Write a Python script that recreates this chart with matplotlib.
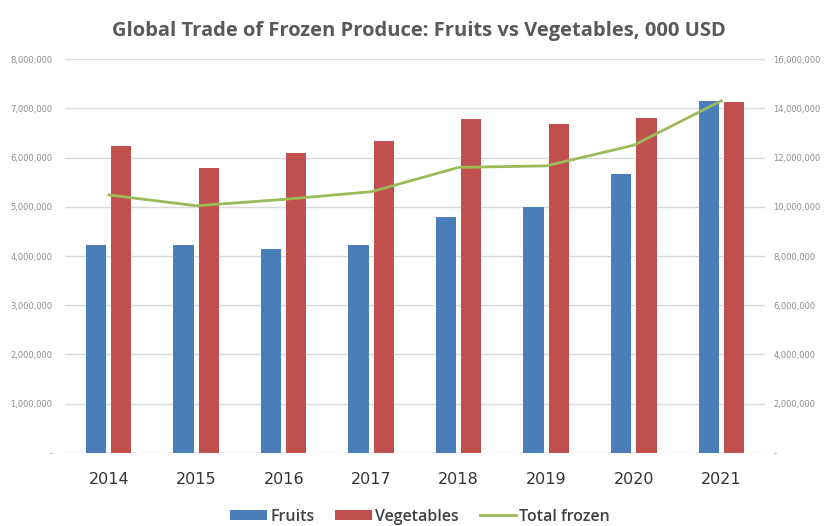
import matplotlib
matplotlib.use('Agg')
import matplotlib.pyplot as plt
import numpy as np

# Values in USD (000)
years = ['2014', '2015', '2016', '2017', '2018', '2019', '2020', '2021']
fruits = [4220000, 4220000, 4150000, 4220000, 4790000, 5000000, 5660000, 7150000]
vegetables = [6230000, 5790000, 6100000, 6330000, 6780000, 6690000, 6800000, 7130000]
total_frozen = [10480000, 10040000, 10300000, 10610000, 11600000, 11660000, 12500000, 14300000]


def fmt(v, pos=None):
    return '-' if v == 0 else '{:,.0f}'.format(v)


fig = plt.figure(figsize=(8.29, 5.26), dpi=100)
ax = fig.add_axes([0.0784, 0.1388, 0.8444, 0.749])
ax2 = ax.twinx()

x = np.arange(len(years))
w = 0.23
ax.bar(x - 0.145, fruits, w, color='#4a7ebb', label='Fruits', zorder=2)
ax.bar(x + 0.145, vegetables, w, color='#c0504d', label='Vegetables', zorder=2)
ax2.plot(x, total_frozen, color='#9bbb59', lw=2, label='Total frozen')

ax.set_xlim(-0.5, 7.5)
ax.set_ylim(0, 8000000)
ax2.set_ylim(0, 16000000)
ax.set_yticks(np.arange(0, 8000001, 1000000))
ax2.set_yticks(np.arange(0, 16000001, 2000000))
ax.yaxis.set_major_formatter(fmt)
ax2.yaxis.set_major_formatter(fmt)
ax.grid(axis='y', color='#d9d9d9', lw=1, zorder=0)
ax.set_axisbelow(True)

ax.set_xticks(x)
ax.set_xticklabels(years, fontsize=11.5, color='#333333')
for a in (ax, ax2):
    for s in a.spines.values():
        s.set_visible(False)
ax.tick_params(axis='x', length=0, pad=14)
ax.tick_params(axis='y', length=0, labelsize=6, labelcolor='#8c8c8c', pad=9)
ax2.tick_params(axis='y', length=0, labelsize=6, labelcolor='#8c8c8c', pad=6)

fig.suptitle('Global Trade of Frozen Produce: Fruits vs Vegetables, 000 USD',
             x=0.505, y=0.96, fontsize=14.5, color='#595959', fontfamily='Open Sans',
             fontweight='bold')

h1, l1 = ax.get_legend_handles_labels()
h2, l2 = ax2.get_legend_handles_labels()
fig.legend(h1 + h2, l1 + l2, loc='lower center', bbox_to_anchor=(0.507, -0.025),
           ncol=3, frameon=False, handlelength=2.3, handleheight=0.6,
           columnspacing=1.3, handletextpad=0.2, labelcolor='#404040',
           prop={'family': 'Open Sans', 'weight': 'semibold', 'size': 11.5})

plt.savefig('out.png', dpi=100)
plt.close()
